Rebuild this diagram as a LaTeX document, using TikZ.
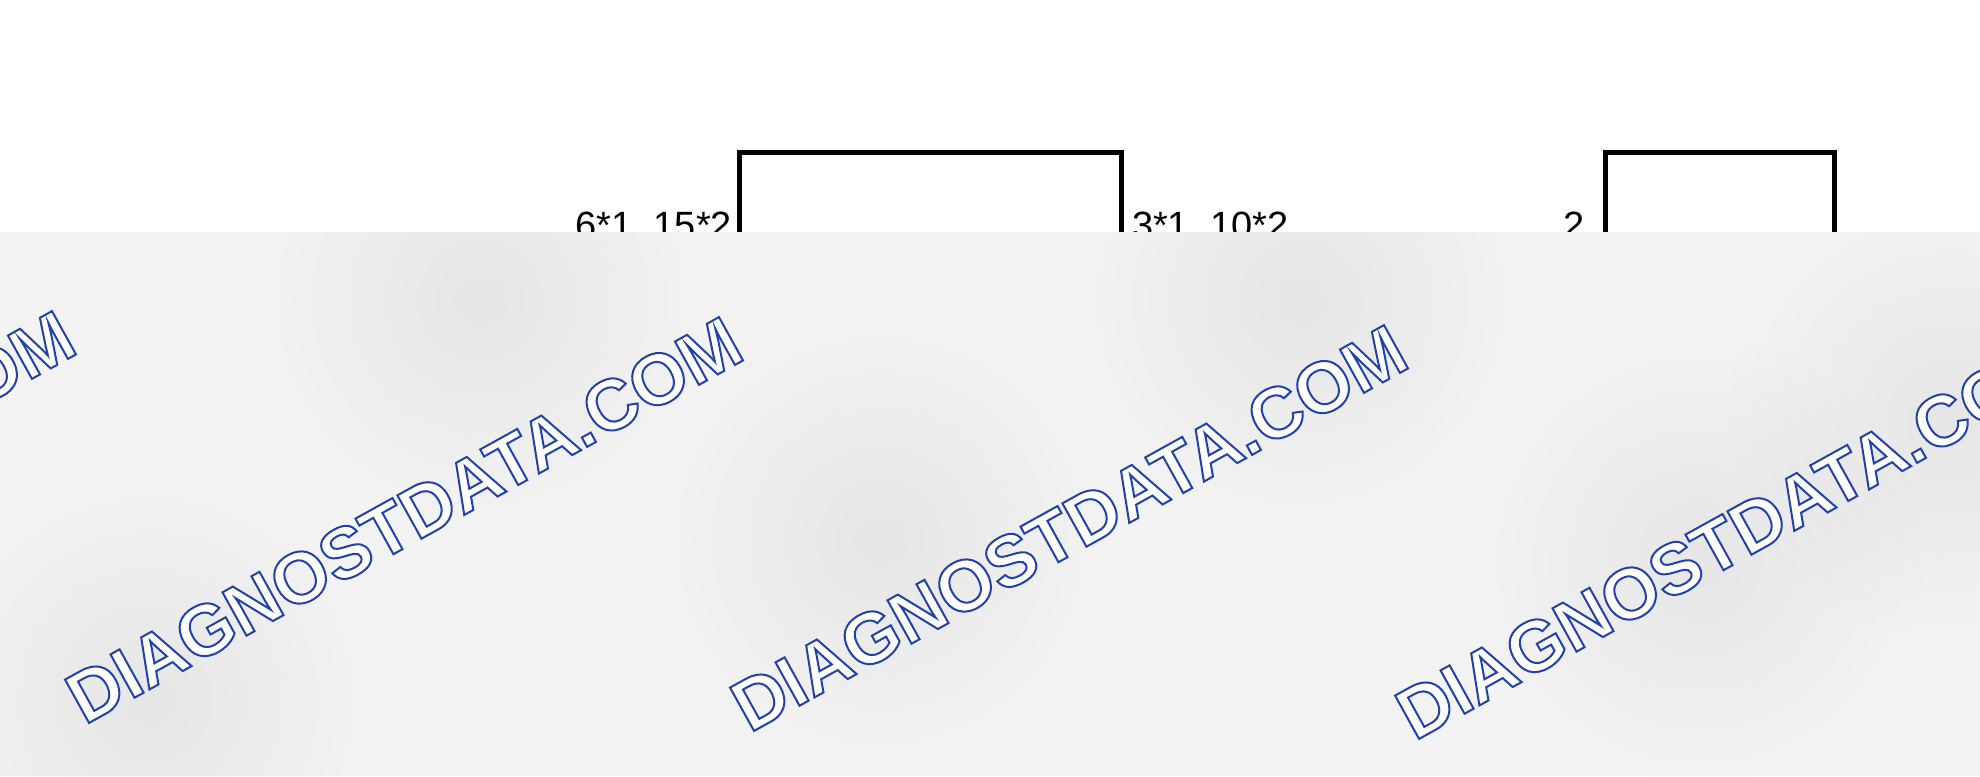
\documentclass[tikz,border=0pt]{standalone}
\usepackage{fontspec}
\setmainfont{Liberation Sans}
\usetikzlibrary{positioning,fadings}
\definecolor{wmblue}{RGB}{35,65,170}
\definecolor{panelgray}{RGB}{243,243,244}
\tikzfading[name=blot fade, inner color=transparent!0, outer color=transparent!100]
% outlined watermark text: white fill, blue stroke
\newcommand\outlinetext[1]{\textcolor{white}{%
  \special{pdf:literal direct 2 Tr 2 w 0.137 0.255 0.667 RG}#1%
  \special{pdf:literal direct 0 Tr}}}
\begin{document}
\begin{tikzpicture}
   [
     x = 1pt, y = -1pt,
     every node/.style = {font=\fontsize{38}{40}\selectfont, inner sep=0pt, outer sep=0pt},
     box/.style        = {draw, line width=5pt, minimum height=300pt},
     wm/.style         = {font=\fontsize{72}{72}\selectfont\bfseries, rotate=29},
     panel/.style      = {fill=panelgray},
     blot/.style       = {fill=black, opacity=0.05, path fading=blot fade}
   ]
    \useasboundingbox (0,0) rectangle (1980,776);
    % boxes
    \node [box, minimum width=382pt, anchor=north west] (box1) at (739,152) {};
    \node [box, minimum width=229pt, anchor=north west] (box2) at (1605,152) {};
    % pin labels
    \node [below left=60pt and 7pt of box1.north west]   (l1) {6*1, 15*2};
    \node [below right=60pt and 11pt of box1.north east] (l2) {3*1, 10*2};
    \node [below left=60pt and 20pt of box2.north west]  (l3) {2};
    % watermark panel
    \fill [panel] (0,232) rectangle (1980,776);
    \begin{scope}
      \clip (0,232) rectangle (1980,776);
      \foreach \x/\y in {480/300, 880/540, 1300/300, 1700/560, 150/700, 1950/420}
        \fill [blot] (\x,\y) circle (230);
      \foreach \x/\y [count=\i] in {-263/514, 404/520, 1069/528, 1734/536}
        \node [wm] (wm\i) at (\x,\y) {\outlinetext{DIAGNOSTDATA.COM}};
    \end{scope}
\end{tikzpicture}
\end{document}
